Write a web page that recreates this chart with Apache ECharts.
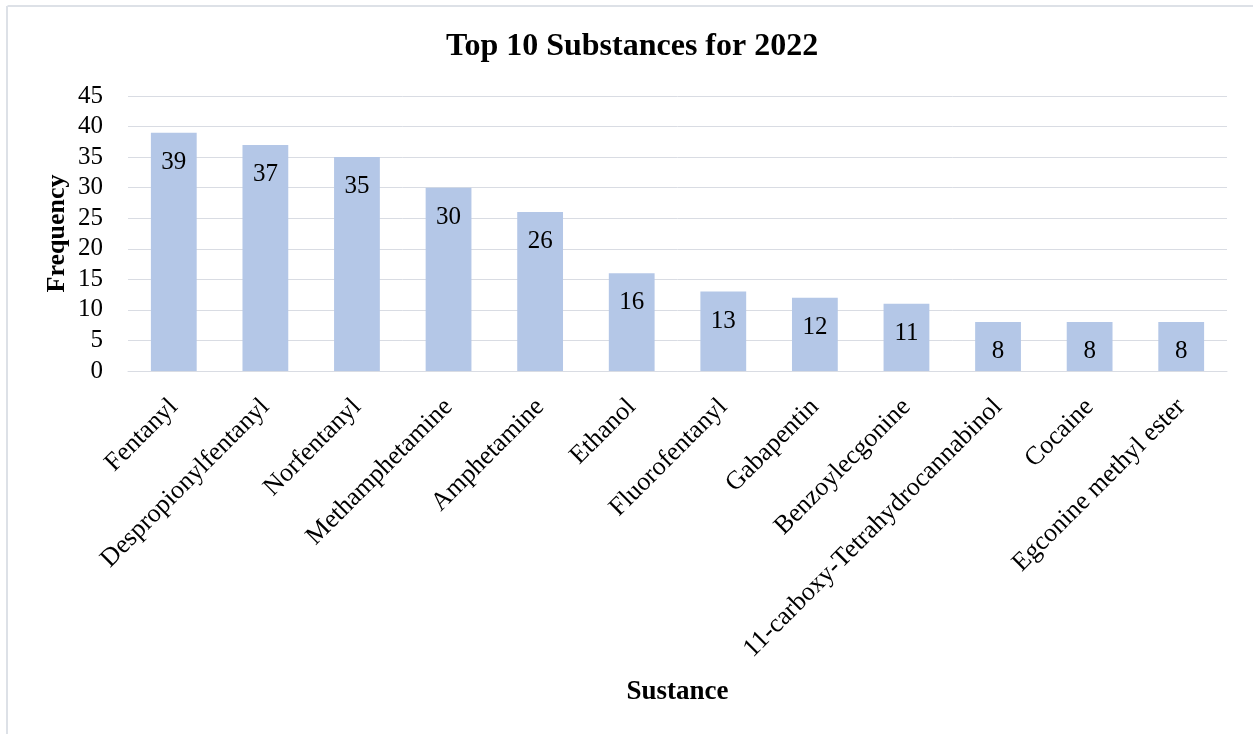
<!DOCTYPE html>
<html>
<head>
<meta charset="utf-8">
<script src="https://cdn.jsdelivr.net/npm/echarts@6/dist/echarts.min.js"></script>
<style>
html,body{margin:0;padding:0;background:#fff;}
#c{width:1253px;height:734px;}
</style>
</head>
<body>
<div id="c"></div>
<script>
const categories = ["Fentanyl","Despropionylfentanyl","Norfentanyl","Methamphetamine","Amphetamine","Ethanol","Fluorofentanyl","Gabapentin","Benzoylecgonine","11-carboxy-Tetrahydrocannabinol","Cocaine","Egconine methyl ester"];
const frequency = [39,37,35,30,26,16,13,12,11,8,8,8];
const yTicks = {min:0, max:45, interval:5};

const font = "'Liberation Serif','Times New Roman',serif";
const chart = echarts.init(document.getElementById('c'), null, {renderer:'canvas'});
chart.setOption({
  backgroundColor:'#fff',
  animation:false,
  title:{
    text:'Top 10 Substances for 2022',
    left:441, top:26,
    textStyle:{fontFamily:font, fontWeight:'bold', fontSize:32, color:'#000'}
  },
  graphic:[
    {type:'line', shape:{x1:7.5,y1:6,x2:1253,y2:6}, style:{stroke:'#dde1e7', lineWidth:2}},
    {type:'line', shape:{x1:7,y1:6,x2:7,y2:734}, style:{stroke:'#dde1e7', lineWidth:2}}
  ],
  grid:{left:128, right:26, top:96, bottom:363},
  xAxis:{
    type:'category',
    data:categories,
    name:'Sustance',
    nameLocation:'middle',
    nameGap:308,
    nameMoveOverlap:false,
    nameTextStyle:{fontFamily:font, fontWeight:'bold', fontSize:27, color:'#000'},
    axisLine:{lineStyle:{color:'#d9dce3', width:1}},
    axisTick:{show:false},
    axisLabel:{rotate:45, interval:0, margin:32, fontFamily:font, fontSize:26, color:'#000'}
  },
  yAxis:{
    type:'value',
    min:yTicks.min, max:yTicks.max, interval:yTicks.interval,
    name:'Frequency',
    nameLocation:'middle',
    nameGap:58,
    nameMoveOverlap:false,
    nameRotate:90,
    nameTextStyle:{fontFamily:font, fontWeight:'bold', fontSize:26, color:'#000'},
    axisLine:{show:false},
    axisTick:{show:false},
    axisLabel:{margin:25, fontFamily:font, fontSize:25, color:'#000'},
    splitLine:{lineStyle:{color:'#d9dce3', width:1}}
  },
  series:[{
    type:'bar',
    data:frequency,
    barWidth:'50%',
    itemStyle:{color:'#b4c7e7'},
    label:{show:true, position:'insideTop', distance:17, fontFamily:font, fontSize:25, color:'#000'}
  }]
});
</script>
</body>
</html>
